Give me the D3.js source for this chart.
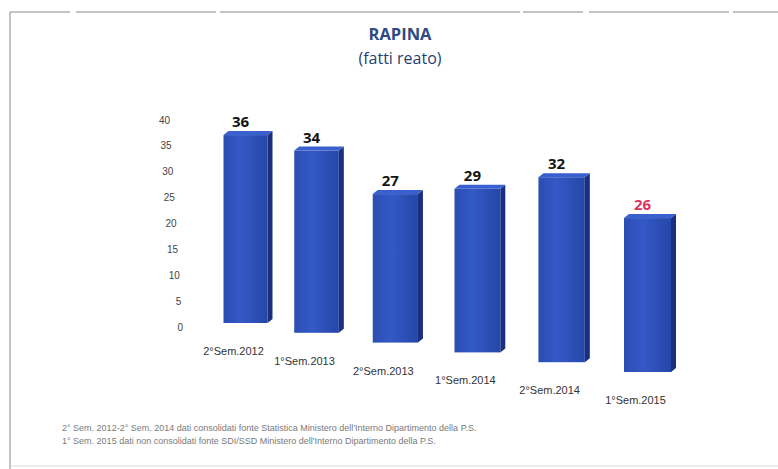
<!DOCTYPE html>
<html><head><meta charset="utf-8">
<script src="https://cdn.jsdelivr.net/npm/d3@7"></script>
<style>html,body{margin:0;padding:0;background:#fff;}svg{display:block;}</style>
</head><body>
<script>
// ---- data ----
const categories = ["2°Sem.2012","1°Sem.2013","2°Sem.2013","1°Sem.2014","2°Sem.2014","1°Sem.2015"];
const values = [36, 34, 27, 29, 32, 26];
const highlight = [false, false, false, false, false, true];
const yTicks = [0, 5, 10, 15, 20, 25, 30, 35, 40];
const titleLines = ["RAPINA", "(fatti reato)"];
const notes = [
  "2° Sem. 2012-2° Sem. 2014 dati consolidati fonte Statistica Ministero dell'Interno Dipartimento della P.S.",
  "1° Sem. 2015 dati non consolidati fonte SDI/SSD Ministero dell'Interno Dipartimento della P.S."
];

const W = 778, H = 469;
const svg = d3.select("body").append("svg").attr("width", W).attr("height", H);

// frame
svg.append("line").attr("x1",10).attr("x2",778).attr("y1",12).attr("y2",12)
  .attr("stroke","#8a8a8a").attr("stroke-width",1.2).attr("stroke-dasharray","60 6 140 4 300 3");
svg.append("line").attr("x1",10).attr("x2",10).attr("y1",12).attr("y2",469)
  .attr("stroke","#9a9a9a").attr("stroke-width",1.2);
svg.append("line").attr("x1",10).attr("x2",778).attr("y1",466).attr("y2",466)
  .attr("stroke","#d8d8d8").attr("stroke-width",1);

// title
const titleG = svg.append("g").attr("font-family","'Open Sans', sans-serif").attr("fill","#2d4a86").attr("text-anchor","middle");
titleG.append("text").attr("x",400).attr("y",40).attr("font-size",16.5).attr("font-weight","bold").text(titleLines[0]);
titleG.append("text").attr("x",400).attr("y",64).attr("font-size",16).attr("fill","#263f72").text(titleLines[1]);

// gradients
const defs = svg.append("defs");
const g1 = defs.append("linearGradient").attr("id","front").attr("x1",0).attr("x2",1).attr("y1",0).attr("y2",0);
g1.append("stop").attr("offset","0%").attr("stop-color","#2b4db3");
g1.append("stop").attr("offset","40%").attr("stop-color","#3459c6");
g1.append("stop").attr("offset","100%").attr("stop-color","#2646a8");

// ---- scales (perspective: bars nearer to viewer toward the right) ----
const xIndex = d3.scalePoint().domain(categories).range([0, 1]);
const xPersp = d3.scalePow().exponent(1.077).domain([0, 1]).range([245.5, 647.5]);
const baseScale = d3.scaleLinear().domain([0, 1]).range([323, 372]);
const unitScale = d3.scaleLinear().domain([0, 1]).range([5.22, 5.92]);
const widthScale = d3.scaleLinear().domain([0, 1]).range([44, 47]);
function yFor(cat) {
  const t = xIndex(cat);
  const b = baseScale(t), k = unitScale(t);
  return d3.scaleLinear().domain([0, 40]).range([b, b - 40 * k]);
}

// back y axis (slanted by perspective)
const yAxis = d3.scaleLinear().domain([0, 40]).range([327, 120]);
const yAxisX = d3.scaleLinear().domain([0, 40]).range([183, 170]);
svg.append("g").selectAll("text").data(yTicks).join("text")
  .attr("x", d => yAxisX(d)).attr("y", d => yAxis(d) + 3.5)
  .attr("text-anchor","end").attr("font-family","'Liberation Sans Narrow','Liberation Sans',sans-serif")
  .attr("font-size",10).attr("fill","#444").text(d => d);

// bars
const depthX = 5, depthY = 4;
const bars = svg.append("g").selectAll("g").data(categories).join("g");
bars.each(function(cat, i) {
  const g = d3.select(this);
  const t = xIndex(cat);
  const cx = xPersp(t), w = widthScale(t);
  const y = yFor(cat);
  const x0 = cx - w / 2, x1 = cx + w / 2;
  const top = y(values[i]), base = y(0);
  // side
  g.append("path").attr("d", `M${x1},${top}L${x1+depthX},${top-depthY}L${x1+depthX},${base-depthY}L${x1},${base}Z`)
    .attr("fill","#1a2f7e");
  // top
  g.append("path").attr("d", `M${x0},${top}L${x0+depthX},${top-depthY}L${x1+depthX},${top-depthY}L${x1},${top}Z`)
    .attr("fill","#3a5fcf");
  // front
  g.append("rect").attr("x", x0).attr("y", top).attr("width", w).attr("height", base - top)
    .attr("fill","url(#front)");
  // value label
  g.append("text").attr("x", cx - 5).attr("y", top - 8).attr("text-anchor","middle")
    .attr("font-family","'Open Sans',sans-serif").attr("font-weight","bold").attr("font-size",15)
    .attr("fill", highlight[i] ? "#e0315f" : "#141414").text(values[i]);
  // category label
  g.append("text").attr("x", cx - 12).attr("y", base + 32).attr("text-anchor","middle")
    .attr("font-family","'Liberation Sans Narrow','Liberation Sans',sans-serif").attr("font-size",11)
    .attr("fill","#333").text(cat);
});

// footnotes
svg.append("g").selectAll("text").data(notes).join("text")
  .attr("x", 62).attr("y", (d, i) => 431 + i * 13)
  .attr("font-family","'Liberation Sans Narrow','Liberation Sans',sans-serif").attr("font-size",9)
  .attr("fill","#7a7a7a").text(d => d);
</script>
</body></html>
